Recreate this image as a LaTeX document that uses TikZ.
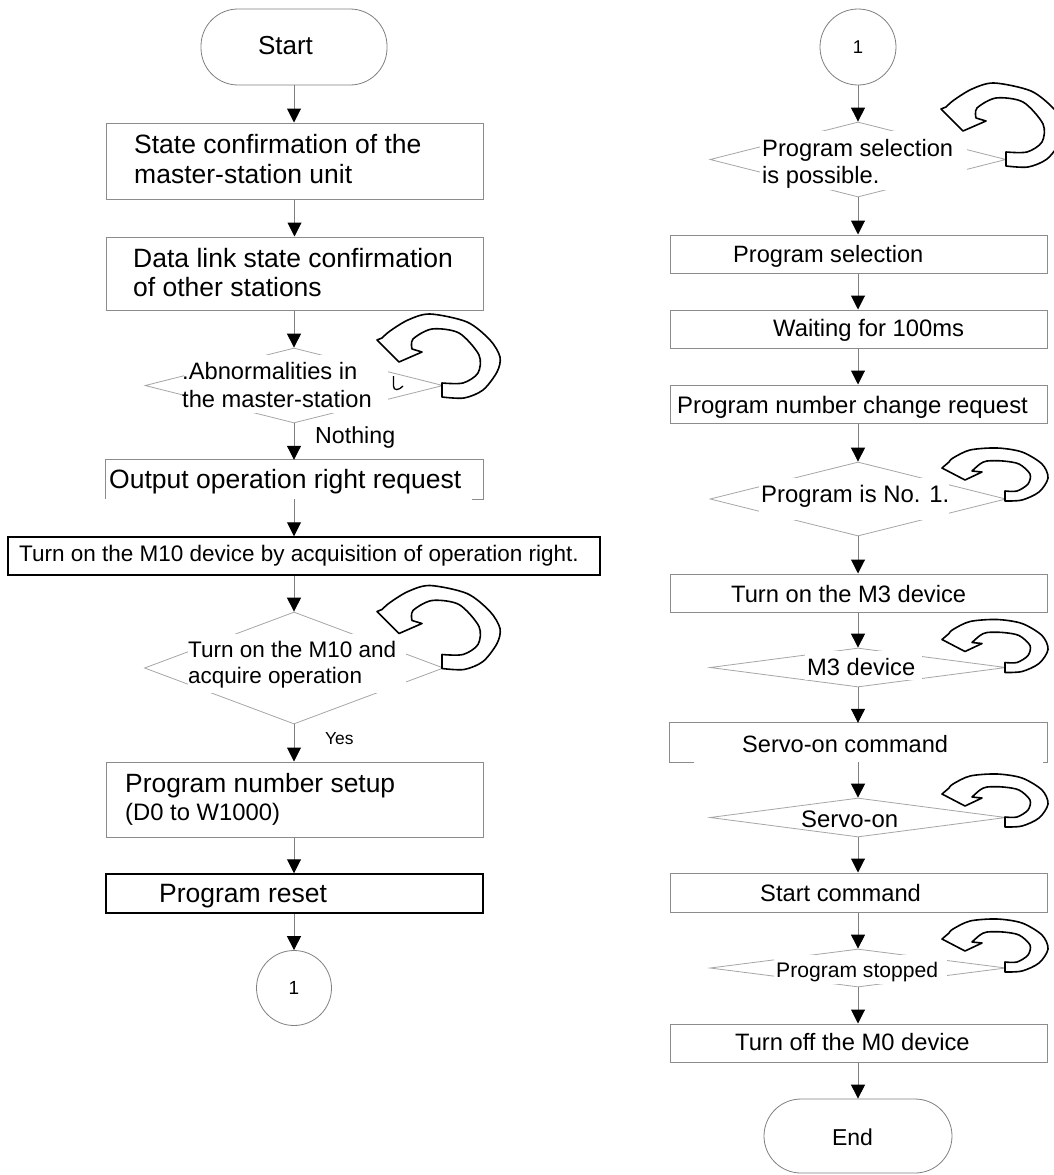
\documentclass[tikz,border=0pt]{standalone}
\usepackage{fontspec}
\setmainfont{Liberation Sans}
\usetikzlibrary{shapes.geometric,arrows.meta}
\newcommand\fsz[2]{\fontsize{#1pt}{#2pt}\selectfont}
\newcommand\bigloop{%
  \draw[loopst] (0,-7) -- (0,7)
    -- plot[smooth] coordinates {(0,7) (22,8) (41,0) (55,-18) (58,-33) (48,-50) (25,-68) (-12,-76) (-34,-70) (-52,-59) (-60,-52)}
    -- (-65,-50) -- (-43,-28) -- (-20,-38) -- (-30,-41)
    -- plot[smooth] coordinates {(-30,-41) (-29,-51) (-10,-61) (17,-57) (37,-35) (36,-17) (21,-7) (0,-7)}
    -- cycle;}
\newcommand\smallloop{%
  \draw[loopst] (0,-5) -- (0,5)
    -- plot[smooth] coordinates {(0,5) (17,4) (34,-4) (43,-18) (37,-32) (17,-44) (-8,-48) (-35,-46) (-52,-38) (-56,-34)}
    -- (-63,-28) -- (-40,-16) -- (-23,-24) -- (-33,-25)
    -- plot[smooth] coordinates {(-33,-25) (-25,-32) (-18,-35) (-2,-35) (14,-32) (25,-22) (23,-12) (12,-5) (0,-5)}
    -- cycle;}
\begin{document}
\begin{tikzpicture}[x=1pt,y=-1pt,
  box/.style={rectangle,draw=black!45,line width=1pt,minimum width=377pt,inner sep=0pt},
  darkbox/.style={rectangle,draw=black,line width=1.5pt,inner sep=0pt},
  openbox/.style={rectangle,inner sep=0pt,minimum width=377pt},
  dia/.style={diamond,draw=black!35,line width=0.8pt,inner sep=0pt,minimum width=298pt},
  term/.style={rectangle,rounded corners=37pt,draw=black!50,line width=0.8pt,inner sep=0pt},
  conn/.style={circle,draw=black!50,line width=0.8pt,inner sep=0pt,minimum size=76pt},
  arr/.style={draw=black!50,line width=1pt,-{Triangle[length=14pt,width=14pt,color=black]}},
  lbl/.style={anchor=base west,inner sep=0pt,align=left},
  ctr/.style={anchor=base,inner sep=0pt},
  loopst/.style={draw=black,fill=white,line width=1.6pt,line join=round},
  edgeline/.style={draw=black!45,line width=1pt},
  whitebg/.style={fill=white,draw=none}
]
\useasboundingbox (0,0) rectangle (1054,1175);
\fill[white] (0,0) rectangle (1054,1175);
\clip (0,0) rectangle (1054,1175);

% ---------- left column ----------
\node[term,minimum width=186pt,minimum height=76pt] (start) at (294,47) {};
\node[box,minimum height=76pt] (b1) at (294.5,161) {};
\node[box,minimum height=73pt] (b2) at (294.5,273.5) {};
\node[dia,minimum height=75pt] (d1) at (294,385.5) {};
\node[openbox,minimum height=39pt] (b3) at (294.5,479.5) {};
\node[darkbox,minimum width=592pt,minimum height=38pt] (b4) at (304,556) {};
\node[dia,minimum width=299pt,minimum height=112pt] (d2) at (294,668) {};
\node[box,minimum height=75pt] (b5) at (294.5,799.5) {};
\node[darkbox,minimum width=377pt,minimum height=39pt] (b6) at (294.5,893.5) {};
\node[conn,minimum size=75pt,font=\fsz{19}{22}] (c1) at (294,988) {1};

\draw[edgeline] (b3.south west) -- (b3.north west) -- (b3.north east) -- (b3.south east) -- ([xshift=-11pt]b3.south east);

% ---------- right column ----------
\node[conn,font=\fsz{18.5}{22}] (c2) at (858,47) {1};
\node[dia,minimum width=296pt,minimum height=75pt] (d3) at (858,159.5) {};
\node[box,minimum height=38pt] (r1) at (858.5,254) {};
\node[box,minimum height=38pt] (r2) at (858.5,329) {};
\node[box,minimum height=38pt] (r3) at (858.5,404) {};
\node[dia,minimum width=296pt,minimum height=74pt] (d4) at (858,499) {};
\node[box,minimum height=38pt] (r4) at (858.5,593) {};
\node[dia,minimum width=296pt,minimum height=39pt] (d5) at (858,667.5) {};
\node[openbox,minimum height=39pt] (r5) at (858.5,742.5) {};
\node[dia,minimum width=296pt,minimum height=39pt] (d6) at (858,817.5) {};
\node[box,minimum height=39pt] (r6) at (858.5,892.5) {};
\node[dia,minimum width=296pt,minimum height=38pt] (d7) at (858,968) {};
\node[box,minimum height=38pt] (r7) at (858.5,1043) {};
\node[term,minimum width=188pt,minimum height=74pt] (end) at (858,1136) {};

\draw[edgeline] ([xshift=24pt]r5.south west) -- (r5.south west) -- (r5.north west) -- (r5.north east) -- (r5.south east) -- ([xshift=-4pt]r5.south east);

% ---------- white backgrounds of the decision texts ----------
\fill[whitebg] (184,355) rectangle (388,413);
\fill[whitebg] (188,634) rectangle (406,693);
\fill[whitebg] (760,131) rectangle (967,190);
\fill[whitebg] (759,478) rectangle (949,520);
\fill[whitebg] (805,651) rectangle (922,680);
\fill[whitebg] (800,806) rectangle (912,829);
\fill[whitebg] (774,955) rectangle (947,984);

% ---------- texts, left (multi-line nodes sit on their last baseline) ----------
\node[ctr,font=\fsz{26}{30}] (ts) at (285.5,54.5) {Start};
\node[lbl,font=\fsz{26.5}{30}] (t1) at (134,183) {State confirmation of the\\master-station unit};
\node[lbl,font=\fsz{26.5}{29}] (t2) at (133,296) {Data link state confirmation\\of other stations};
\node[lbl,font=\fsz{23.7}{28}] (t3) at (182,407) {.Abnormalities in\\the master-station};
\node[lbl,font=\fsz{23.2}{28}] (tn) at (315,443) {Nothing};
\node[lbl,font=\fsz{26.5}{30}] (t4) at (109,488) {Output operation right request};
\node[lbl,font=\fsz{22.5}{27}] (t5) at (19,561) {Turn on the M10 device by acquisition of operation right.};
\node[lbl,font=\fsz{22.5}{26}] (t6) at (188,683) {Turn on the M10 and\\acquire operation};
\node[lbl,font=\fsz{17.4}{20}] (ty) at (325,744) {Yes};
\node[lbl,font=\fsz{26.4}{30}] (t7) at (125,792) {Program number setup};
\node[lbl,font=\fsz{23.8}{28}] (t7b) at (125,820) {(D0 to W1000)};
\node[lbl,font=\fsz{26.5}{30}] (t8) at (159,902) {Program reset};

% ---------- texts, right ----------
\node[lbl,font=\fsz{23.7}{27}] (u1) at (762,183) {Program selection\\is possible.};
\node[lbl,font=\fsz{23.6}{28}] (u2) at (733,262) {Program selection};
\node[lbl,font=\fsz{23.8}{28}] (u3) at (773,336) {Waiting for 100ms};
\node[lbl,font=\fsz{23.9}{28}] (u4) at (677,413) {Program number change request};
\node[lbl,font=\fsz{23.9}{28}] (u5) at (761,502) {Program is No. 1.};
\node[lbl,font=\fsz{23.7}{28}] (u6) at (731,602) {Turn on the M3 device};
\node[lbl,font=\fsz{23.7}{28}] (u7) at (807,675) {M3 device};
\node[lbl,font=\fsz{23.6}{28}] (u8) at (742,752) {Servo-on command};
\node[lbl,font=\fsz{23.9}{28}] (u9) at (801,827) {Servo-on};
\node[lbl,font=\fsz{23.7}{28}] (u10) at (760,901) {Start command};
\node[lbl,font=\fsz{21.1}{25}] (u11) at (776,977) {Program stopped};
\node[lbl,font=\fsz{23.7}{28}] (u12) at (735,1050) {Turn off the M0 device};
\node[ctr,font=\fsz{23}{28}] (ue) at (852.5,1145) {End};

% ---------- connectors, left ----------
\draw[arr] (start.south) -- (start.south |- b1.north);
\draw[arr] (b1.south) -- (b1.south |- b2.north);
\draw[arr] (d1.north |- b2.south) -- (d1.north);
\draw[arr] (d1.south) -- (d1.south |- b3.north);
\draw[arr] (d1.south |- b3.south) -- (d1.south |- b4.north);
\draw[arr] (d2.north |- b4.south) -- (d2.north);
\draw[arr] (d2.south) -- (d2.south |- b5.north);
\draw[arr] (d2.south |- b5.south) -- (d2.south |- b6.north);
\draw[arr] (c1.north |- b6.south) -- (c1.north);

% ---------- connectors, right ----------
\draw[arr] (c2.south) -- (d3.north);
\draw[arr] (d3.south) -- (d3.south |- r1.north);
\draw[arr] (d3.south |- r1.south) -- (d3.south |- r2.north);
\draw[arr] (d3.south |- r2.south) -- (d3.south |- r3.north);
\draw[arr] (d4.north |- r3.south) -- (d4.north);
\draw[arr] (d4.south) -- (d4.south |- r4.north);
\draw[arr] (d5.north |- r4.south) -- (d5.north);
\draw[arr] (d5.south) -- (d5.south |- r5.north);
\draw[arr] (d6.north |- r5.south) -- (d6.north);
\draw[arr] (d6.south) -- (d6.south |- r6.north);
\draw[arr] (d7.north |- r6.south) -- (d7.north);
\draw[arr] (d7.south) -- (d7.south |- r7.north);
\draw[arr] (end.north |- r7.south) -- (end.north);

% ---------- retry loops ----------
\begin{scope}[shift={(442,390)}]\bigloop\end{scope}
\begin{scope}[shift={(442,661.5)}]\bigloop\end{scope}
\begin{scope}[shift={(1006,159)}]\bigloop\end{scope}
\begin{scope}[shift={(1005,496)}]\smallloop\end{scope}
\begin{scope}[shift={(1005,667.5)}]\smallloop\end{scope}
\begin{scope}[shift={(1005,822)}]\smallloop\end{scope}
\begin{scope}[shift={(1005,967)}]\smallloop\end{scope}

% small stray mark in the first decision
\draw[line width=1.3pt] (393.5,376) -- (393.5,386) .. controls (393.5,391) and (399,390.5) .. (403,386);
\end{tikzpicture}
\end{document}
